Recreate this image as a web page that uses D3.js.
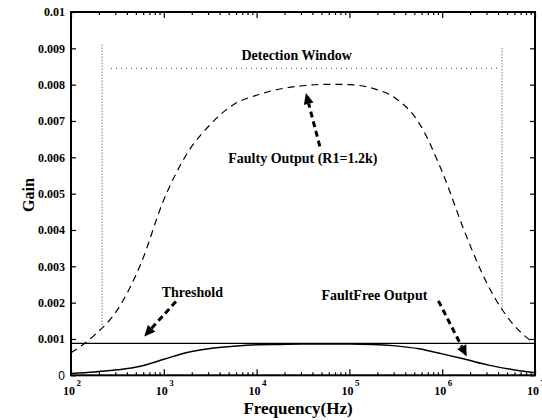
<html>
<head>
<meta charset="utf-8">
<style>
  body { margin: 0; background: #fff; }
  text { font-family: "Liberation Serif", "Times New Roman", serif; font-weight: bold; fill: #000; }
</style>
</head>
<body>
<div id="chart"></div>
<script src="https://cdnjs.cloudflare.com/ajax/libs/d3/7.8.5/d3.min.js"></script>
<script>
// frequencies (Hz) the curves were read at
var freqs = [100, 178, 316, 562, 1000, 1778, 3162, 5623, 10000, 17783, 31623, 56234,
             100000, 177828, 316228, 562341, 1000000, 1778279, 3162278, 5623413, 10000000];

// gain of the faulty circuit (R1=1.2k), dashed
var faultyGain = [0.00062, 0.00110, 0.00180, 0.00305, 0.00483, 0.00610, 0.00690, 0.00745, 0.00771,
                  0.00788, 0.00797, 0.00801, 0.00800, 0.00790, 0.00762, 0.00695, 0.00560, 0.00390,
                  0.00244, 0.00145, 0.00086];

// gain of the fault free circuit, solid
var faultFreeGain = [0.00005, 0.00009, 0.00015, 0.00025, 0.00044, 0.00063, 0.00074, 0.00080, 0.00084,
                     0.00085, 0.00086, 0.00086, 0.00086, 0.00085, 0.00081, 0.00073, 0.00059, 0.00044,
                     0.00028, 0.00016, 0.00007];

var threshold = 0.00088;

// detection window (Hz / gain)
var windowFreqs = [216, 4400000];
var windowTops = [0.0091, 0.0090];
var windowBottoms = [0.00134, 0.00180];
var windowLevel = 0.00845;
var windowSpan = [270, 3900000];

var yTicks = [0, 0.001, 0.002, 0.003, 0.004, 0.005, 0.006, 0.007, 0.008, 0.009, 0.01];
var yTickLabels = ["0", "0.001", "0.002", "0.003", "0.004", "0.005", "0.006", "0.007", "0.008", "0.009", "0.01"];
var xMajor = [1e2, 1e3, 1e4, 1e5, 1e6, 1e7];
var xExponents = ["2", "3", "4", "5", "6", "7"];

// annotation labels and arrows, in data units
var labels = [
  { text: "Detection Window", f: 27000, v: 0.00868, anchor: "middle" },
  { text: "Faulty Output (R1=1.2k)", f: 4950, v: 0.00583, anchor: "start" },
  { text: "Threshold", f: 950, v: 0.00216, anchor: "start" },
  { text: "FaultFree Output", f: 50000, v: 0.00207, anchor: "start" }
];
var arrows = [
  { f0: 48000, v0: 0.0063, f1: 34000, v1: 0.00777 },
  { f0: 1350, v0: 0.00203, f1: 615, v1: 0.00107 },
  { f0: 910000, v0: 0.00205, f1: 1840000, v1: 0.00052 }
];

var width = 542, height = 420;
var margin = { top: 12, right: 7, bottom: 44.7, left: 71 };

var svg = d3.select("#chart").append("svg")
    .attr("width", width)
    .attr("height", height);

var x = d3.scaleLog().domain([1e2, 1e7]).range([margin.left, width - margin.right]);
var y = d3.scaleLinear().domain([0, 0.01]).range([height - margin.bottom, margin.top]);

var xMinor = [];
xMajor.slice(0, -1).forEach(function(m) {
  for (var k = 2; k <= 9; k++) xMinor.push(m * k);
});

function tidy(g) {
  g.select(".domain").remove();
  g.selectAll(".tick line").attr("stroke", "#000").attr("stroke-width", 1.2);
}

// y axes (ticks pointing in)
svg.append("g")
  .attr("transform", "translate(" + margin.left + ",0)")
  .call(d3.axisLeft(y).tickValues(yTicks).tickSize(-5).tickPadding(6)
        .tickFormat(function(d, i) { return yTickLabels[i]; }))
  .call(tidy)
  .call(function(g) {
    g.selectAll("text").attr("font-size", 12).attr("font-family", null);
    g.selectAll("text").filter(function(d) { return d === 0; })
      .style("font-family", "'Liberation Sans', Arial, sans-serif").style("font-weight", "normal");
  });

svg.append("g")
  .attr("transform", "translate(" + (width - margin.right) + ",0)")
  .call(d3.axisRight(y).tickValues(yTicks).tickSize(-5).tickFormat(""))
  .call(tidy);

// x axes, major + minor, bottom and top
var yb = height - margin.bottom;
svg.append("g").attr("transform", "translate(0," + yb + ")")
  .call(d3.axisBottom(x).tickValues(xMajor).tickSize(-6).tickFormat("")).call(tidy);
svg.append("g").attr("transform", "translate(0," + yb + ")")
  .call(d3.axisBottom(x).tickValues(xMinor).tickSize(-3).tickFormat("")).call(tidy);
svg.append("g").attr("transform", "translate(0," + margin.top + ")")
  .call(d3.axisTop(x).tickValues(xMajor).tickSize(-6).tickFormat("")).call(tidy);
svg.append("g").attr("transform", "translate(0," + margin.top + ")")
  .call(d3.axisTop(x).tickValues(xMinor).tickSize(-3).tickFormat("")).call(tidy);

// x tick labels 10^n
var xl = svg.append("g").selectAll("text")
  .data(xMajor)
  .enter().append("text")
  .attr("x", function(d) { return x(d) - 8; })
  .attr("y", yb + 20)
  .attr("font-size", 12);
xl.append("tspan").text("10");
xl.append("tspan").attr("dy", -9).attr("dx", 1.5).attr("font-size", 9)
  .text(function(d, i) { return xExponents[i]; });

// frame
svg.append("rect")
  .attr("x", margin.left).attr("y", margin.top)
  .attr("width", width - margin.left - margin.right)
  .attr("height", height - margin.top - margin.bottom)
  .attr("fill", "none").attr("stroke", "#000").attr("stroke-width", 2);

// axis titles
svg.append("text")
  .attr("x", 298)
  .attr("y", 414)
  .attr("text-anchor", "middle")
  .attr("font-size", 17)
  .text("Frequency(Hz)");

svg.append("text")
  .attr("transform", "translate(34,195) rotate(-90)")
  .attr("text-anchor", "middle")
  .attr("font-size", 16)
  .text("Gain");

// detection window
var dwin = svg.append("g").attr("stroke", "#444").attr("stroke-width", 1).attr("fill", "none");
windowFreqs.forEach(function(f, i) {
  dwin.append("line")
    .attr("x1", x(f)).attr("x2", x(f))
    .attr("y1", y(windowTops[i])).attr("y2", y(windowBottoms[i]))
    .attr("stroke-dasharray", "1,2");
});
dwin.append("line")
  .attr("x1", x(windowSpan[0])).attr("x2", x(windowSpan[1]))
  .attr("y1", y(windowLevel)).attr("y2", y(windowLevel))
  .attr("stroke-dasharray", "1,4");

// threshold
svg.append("line")
  .attr("x1", x(1e2)).attr("x2", x(1e7))
  .attr("y1", y(threshold)).attr("y2", y(threshold))
  .attr("stroke", "#000").attr("stroke-width", 1.3);

// curves
var line = d3.line()
  .x(function(d) { return x(d[0]); })
  .y(function(d) { return y(d[1]); })
  .curve(d3.curveMonotoneX);

svg.append("path")
  .datum(d3.zip(freqs, faultyGain))
  .attr("d", line)
  .attr("fill", "none").attr("stroke", "#000").attr("stroke-width", 1.2)
  .attr("stroke-dasharray", "7,5");

svg.append("path")
  .datum(d3.zip(freqs, faultFreeGain))
  .attr("d", line)
  .attr("fill", "none").attr("stroke", "#000").attr("stroke-width", 1.5);

// annotations
svg.append("g").selectAll("text")
  .data(labels)
  .enter().append("text")
  .attr("x", function(d) { return x(d.f); })
  .attr("y", function(d) { return y(d.v); })
  .attr("text-anchor", function(d) { return d.anchor; })
  .attr("font-size", 14)
  .text(function(d) { return d.text; });

arrows.forEach(function(a) {
  var x0 = x(a.f0), y0 = y(a.v0), x1 = x(a.f1), y1 = y(a.v1);
  var ang = Math.atan2(y1 - y0, x1 - x0);
  var headLen = 11, headW = 5;
  var bx = x1 - headLen * Math.cos(ang), by = y1 - headLen * Math.sin(ang);
  svg.append("line")
    .attr("x1", x0).attr("y1", y0).attr("x2", bx).attr("y2", by)
    .attr("stroke", "#000").attr("stroke-width", 3)
    .attr("stroke-dasharray", "6,4");
  var px = -Math.sin(ang) * headW, py = Math.cos(ang) * headW;
  svg.append("path")
    .attr("d", "M" + x1 + "," + y1 + "L" + (bx + px) + "," + (by + py) + "L" + (bx - px) + "," + (by - py) + "Z")
    .attr("fill", "#000");
});
</script>
</body>
</html>
